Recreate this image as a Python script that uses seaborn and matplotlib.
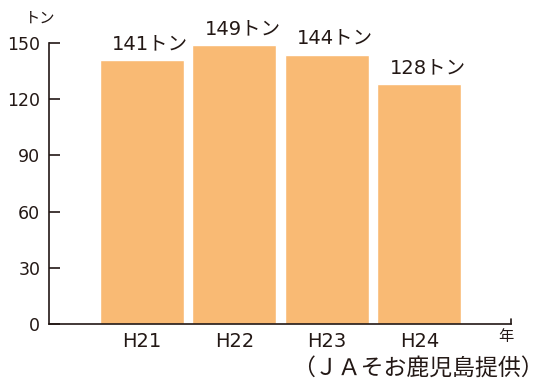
import matplotlib
matplotlib.use("Agg")
import matplotlib.pyplot as plt
import seaborn as sns
import pandas as pd

# ── data ────────────────────────────────────────────────────
years = ["H21", "H22", "H23", "H24"]
tonnage = [141, 149, 144, 128]
y_ticks = [0, 30, 60, 90, 120, 150]

BAR_COLOR = "#F9BA74"
TEXT_COLOR = "#231815"

sns.set_style("white")
# wide Latin digits first, katakana / kanji fall back to Noto CJK
plt.rcParams["font.family"] = ["DejaVu Sans", "Noto Sans CJK JP"]

df = pd.DataFrame({"year": years, "t": tonnage})

fig = plt.figure(figsize=(5.45, 3.8), dpi=100)
ax = fig.add_axes([49.3 / 545, 1 - 323.7 / 380, (511 - 49.3) / 545, (323.7 - 43.3) / 380])

sns.barplot(data=df, x="year", y="t", color=BAR_COLOR, saturation=1,
            width=0.91, ax=ax)

ax.set_xlim(-1.0, 3.99)
ax.set_ylim(0, 150)
ax.set_yticks(y_ticks)
ax.set_xlabel("")
ax.set_ylabel("")

for side in ("top", "right"):
    ax.spines[side].set_visible(False)
for side in ("left", "bottom"):
    ax.spines[side].set_color(TEXT_COLOR)
    ax.spines[side].set_linewidth(1.2)

ax.tick_params(axis="y", direction="in", length=8, width=1.2, color=TEXT_COLOR,
               labelsize=12.5, labelcolor=TEXT_COLOR, pad=6.5, left=True)
ax.tick_params(axis="x", length=0, labelsize=14, labelcolor=TEXT_COLOR, pad=6)

# small upward tick at right end of x axis
ax.plot([1, 1], [0, 0.018], transform=ax.transAxes, color=TEXT_COLOR,
        lw=1.2, clip_on=False)

# value labels, nudged slightly right like the original
for i, v in enumerate(tonnage):
    ax.annotate(f"{v}トン", xy=(i, v), xytext=(6, 5), textcoords="offset points",
                ha="center", va="bottom", fontsize=14, color=TEXT_COLOR)

fig.text(40 / 545, 1 - 18 / 380, "トン", ha="center", va="center",
         fontsize=11, color=TEXT_COLOR)
fig.text(506 / 545, 1 - 337 / 380, "年", ha="center", va="center",
         fontsize=11, color=TEXT_COLOR)
fig.text(544 / 545, 1 - 368 / 380, "（ＪＡそお鹿児島提供）", ha="right",
         va="center", fontsize=16.5, color=TEXT_COLOR,
         family=["Noto Sans CJK JP", "DejaVu Sans"])

fig.savefig("out.png", dpi=100)
